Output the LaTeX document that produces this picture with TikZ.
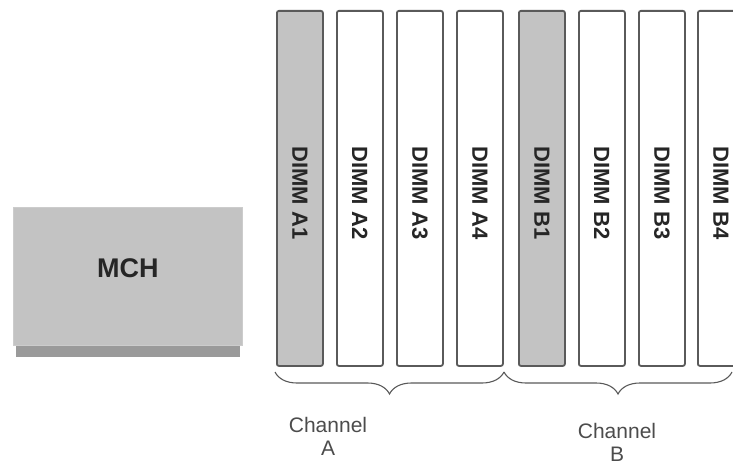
\documentclass[tikz,border=0pt]{standalone}
\usepackage{fontspec}
\setmainfont{Liberation Sans}
\usetikzlibrary{decorations.pathreplacing}
\definecolor{slotgray}{HTML}{C3C3C3}
\definecolor{edgegray}{HTML}{5A5A5A}
\definecolor{shadowgray}{HTML}{9A9A9A}
\begin{document}
\begin{tikzpicture}[x=1pt,y=-1pt,
  dimm/.style={draw=edgegray, line width=1.8pt, rounded corners=2pt, fill=white,
    minimum width=46pt, minimum height=355pt, inner sep=0pt, anchor=north west},
  dimmtext/.style={rotate=-90, font=\bfseries\fontsize{22}{22}\selectfont, text=black!85},
  bracestyle/.style={draw=black!65, line width=1.1pt, decorate,
    decoration={brace, amplitude=22pt, mirror}},
  chlabel/.style={font=\fontsize{21}{23}\selectfont, text=black!70, align=center}]
\useasboundingbox (0,0) rectangle (733,465);
\clip (0,0) rectangle (733,465);
% MCH
\fill[shadowgray] (16,344) rectangle (240,357);
\node[fill=slotgray, draw=slotgray!85!white, line width=0.6pt, minimum width=229pt, minimum height=138pt,
  anchor=north west, inner sep=0pt] (mch) at (13,207) {};
\node[font=\bfseries\fontsize{27}{27}\selectfont, text=black!85] (mcht) at ([yshift=8pt]mch.center) {MCH};
% DIMMs
\node[dimm, fill=slotgray] (a1) at (276,10) {};
\node[dimm] (a2) at (336,10) {};
\node[dimm] (a3) at (396,10) {};
\node[dimm] (a4) at (456,10) {};
\node[dimm, fill=slotgray] (b1) at (518,10) {};
\node[dimm] (b2) at (578,10) {};
\node[dimm] (b3) at (638,10) {};
\node[dimm] (b4) at (697,10) {};
\foreach \n/\t in {a1/A1,a2/A2,a3/A3,a4/A4,b1/B1,b2/B2,b3/B3,b4/B4}
  \node[dimmtext] (\n t) at ([yshift=-4.5pt]\n.center) {DIMM \t};
% braces
\coordinate (ca0) at (275,372);
\coordinate (ca1) at (504,372);
\coordinate (cb1) at (732,372);
\draw[bracestyle] (ca0) -- (ca1);
\draw[bracestyle] (ca1) -- (cb1);
\node[chlabel] (cha) at (328,436) {Channel\\A};
\node[chlabel] (chb) at (617,442) {Channel\\B};
\end{tikzpicture}
\end{document}
